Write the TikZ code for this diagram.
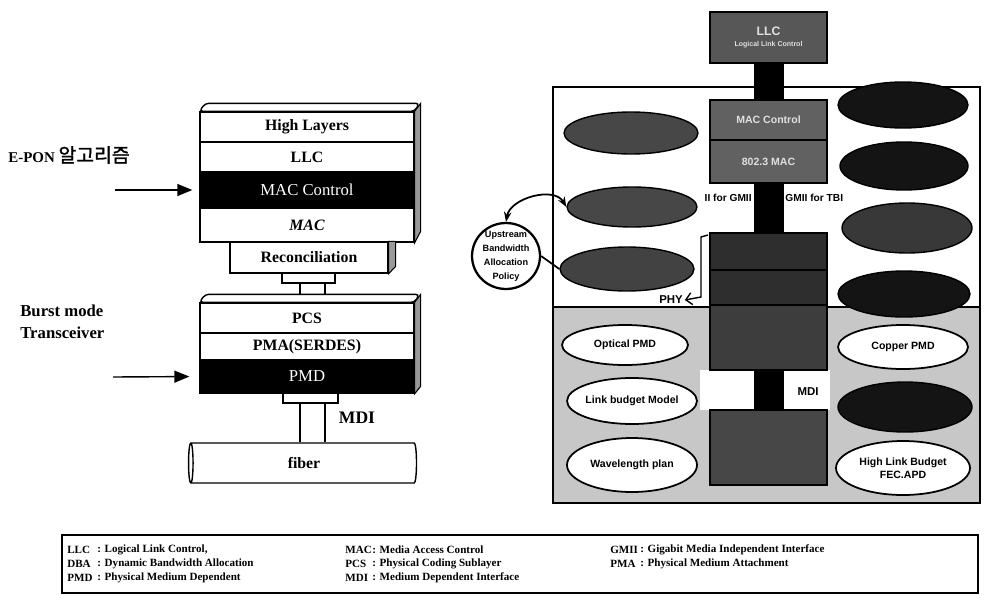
\documentclass[tikz,border=0pt]{standalone}
\usepackage{fontspec}
\setmainfont{Liberation Serif}
\newfontfamily\krfont[AutoFakeBold=1.5]{Noto Sans CJK KR}
\newfontfamily\lblsans{Liberation Sans}
\usetikzlibrary{shapes.geometric,arrows.meta}

\begin{document}
\begin{tikzpicture}[x=0.02cm, y=-0.02cm,
    layer/.style={draw, line width=0.8pt, fill=white, inner sep=0pt, minimum width=4.28cm, font=\fontsize{9}{10}\selectfont\bfseries},
    black layer/.style={layer, fill=black, text=white, font=\fontsize{9.5}{10}\selectfont},
    side face/.style={draw, line width=0.6pt, fill=black!40},
    top face/.style={draw, line width=0.8pt, fill=white, rounded corners=2pt},
    plug/.style={draw, line width=0.8pt, fill=white, inner sep=0pt},
    in arrow/.style={line width=0.8pt, -{Triangle[length=3mm,width=2.4mm]}},
    core box/.style={draw, line width=0.6pt, fill=black!62, inner sep=0pt, minimum width=2.34cm, text=black!12, font=\lblsans\fontsize{6}{7}\selectfont\bfseries},
    blob/.style={ellipse, draw, line width=0.8pt, fill=black!70, inner sep=0pt},
    oval/.style={ellipse, draw, line width=1pt, fill=white, inner sep=0pt},
    oval text/.style={align=center, inner sep=0pt, font=\lblsans\fontsize{6}{7.5}\selectfont\bfseries},
    bus/.style={line width=0.6cm, black},
    key text/.style={anchor=west, inner sep=0pt, font=\fontsize{6.3}{7}\selectfont\bfseries}
  ]
  \useasboundingbox (0,0) rectangle (986,595);

  % left: protocol stack
  \node[anchor=west, inner sep=0pt] (epon) at (8,155) {\fontsize{8.5}{10}\selectfont\bfseries E-PON {\krfont\fontsize{11}{12}\selectfont\bfseries 알고리즘}};
  \node[anchor=north west, align=left, inner sep=0pt, font=\fontsize{9.5}{12.5}\selectfont\bfseries] (burst) at (20,305) {Burst mode\\Transceiver};

  \node[layer, minimum height=0.6cm] (hl) at (307,127) {High Layers};
  \node[layer, minimum height=0.6cm] (llc) at (307,157) {LLC};
  \node[black layer, minimum height=0.72cm] (macc) at (307,190) {MAC Control};
  \node[layer, minimum height=0.68cm] (mac) at (307,225) {\itshape MAC};
  \draw[top face] (hl.north west) -- ++(6,-8) -- ++(214,0) -- (hl.north east) -- cycle;
  \draw[side face] (hl.north east) -- ++(6,-8) -- ++(0,128) -- (mac.south east) -- cycle;

  \node[layer, minimum width=3.16cm, minimum height=0.62cm] (rec) at (309,257.5) {Reconciliation};
  \draw[side face] (rec.north east) -- ++(7,0) -- ++(0,25) -- (rec.south east) -- cycle;
  \node[plug, minimum width=1.06cm, minimum height=0.2cm] (plugA) at (308.5,278) {};
  \node[plug, minimum width=0.5cm, minimum height=0.4cm] (stem) at (312.5,293) {};

  \node[layer, minimum height=0.6cm] (pcs) at (307,318) {PCS};
  \node[layer, minimum height=0.54cm] (pma) at (307,346.5) {PMA(SERDES)};
  \node[black layer, minimum height=0.66cm] (pmd) at (307,376.5) {PMD};
  \draw[top face] (pcs.north west) -- ++(6,-8) -- ++(214,0) -- (pcs.north east) -- cycle;
  \draw[side face] (pcs.north east) -- ++(6,-8) -- ++(0,92) -- (pmd.south east) -- cycle;
  \node[plug, minimum width=1.1cm, minimum height=0.2cm] (plugB) at (310.5,398) {};

  \node[cylinder, shape border rotate=180, draw, line width=0.8pt, aspect=0.4, minimum width=0.8cm, minimum height=4.56cm, inner sep=0pt, font=\fontsize{9}{10}\selectfont\bfseries] (fiber) at (304,463) {fiber};
  \draw[line width=0.8pt] ([xshift=-0.21cm]plugB.south) -- ([xshift=-0.21cm]plugB.south |- fiber.north);
  \draw[line width=0.8pt] ([xshift=0.29cm]plugB.south) -- ([xshift=0.29cm]plugB.south |- fiber.north);
  \node[font=\fontsize{10}{12}\selectfont\bfseries] (mdi) at (357,418) {MDI};

  \coordinate (eponTail) at (115,190);
  \coordinate (burstTail) at (113,377);
  \draw[in arrow, shorten >=0.14cm] (eponTail) -- (macc.west);
  \draw[in arrow, shorten >=0.2cm] (burstTail) -- (pmd.west);

  % right: layer model with the work items
  \fill[black!22] (553,307) rectangle (980,503);
  \fill[white] (700,370) rectangle (830,410);
  \draw[line width=1.3pt] (553,87) rectangle (980,503);
  \draw[line width=1.6pt] (553,307) -- (980,307);

  \node[anchor=east, inner sep=0pt, font=\lblsans\fontsize{5.8}{6}\selectfont\bfseries] (gmiiL) at (752,198) {II for GMII};
  \node[anchor=west, inner sep=0pt, font=\lblsans\fontsize{5.8}{6}\selectfont\bfseries] (gmiiR) at (785,198) {GMII for TBI};

  \node[core box, fill=black!66, minimum height=1.02cm, align=center] (llcR) at (768.5,37.5) {\fontsize{7}{8}\selectfont LLC\\[-1pt]\fontsize{4}{5}\selectfont Logical Link Control};
  \node[core box, minimum height=0.8cm] (maccR) at (768.5,120) {MAC Control};
  \node[core box, minimum height=0.86cm] (macR) at (768.5,161.5) {802.3 MAC};
  \node[core box, fill=black!82, minimum height=0.74cm] (pcsR) at (768.5,251.5) {};
  \node[core box, fill=black!82, minimum height=0.7cm] (pmaR) at (768.5,287.5) {};
  \node[core box, fill=black!76, minimum height=1.3cm] (pmdR) at (768.5,337.5) {};
  \node[core box, fill=black!72, minimum height=1.5cm] (medR) at (768.5,447.5) {};
  \draw[bus] (llcR.south) -- (maccR.north);
  \draw[bus] (macR.south) -- (pcsR.north);
  \draw[bus] (pmdR.south) -- (medR.north);
  \node[font=\lblsans\fontsize{6.5}{7}\selectfont\bfseries] (mdiR) at (808,392) {MDI};

  \node[font=\lblsans\fontsize{6.5}{7}\selectfont\bfseries, inner sep=1pt] (phylbl) at (671,300) {PHY};
  \coordinate (phytop) at (708,235);
  \draw[line width=0.8pt, -{Straight Barb[length=1.2mm]}] (phytop) -- ++(-7,2) -- ++(0,60) -- (phylbl.east);

  \foreach \nm/\cx/\cy/\w/\h/\tone in {lft1/631/133/2.68/0.84/72, lft2/632/207/2.6/0.8/72, lft3/627/269/2.68/0.88/74,
      rgt1/903/105/2.6/0.92/92, rgt2/904/166/2.56/0.96/92, rgt3/907/228/2.6/1.0/78, rgt4/904/294/2.64/0.92/92, rgt5/905/407/2.68/1.0/92}{
    \node[blob, fill=black!\tone, minimum width=\w cm, minimum height=\h cm] (\nm) at (\cx,\cy) {};
  }
  \foreach \nm/\cx/\cy/\w/\h/\txt in {optpmd/625/345/2.52/0.8/{Optical PMD}, linkb/632/401/2.6/0.92/{Link budget Model},
      wavep/632/465/2.6/1.08/{Wavelength plan}, coppmd/903/347/2.6/0.88/{Copper PMD},
      hilink/903/468/2.68/1.08/{High Link Budget\\FEC.APD}}{
    \node[oval, minimum width=\w cm, minimum height=\h cm] (\nm) at (\cx,\cy) {};
    \node[oval text] (\nm-t) at (\nm) {\txt};
  }

  \node[oval, line width=1.3pt, minimum width=1.36cm, minimum height=1.32cm] (ubap) at (506,256) {};
  \node[oval text, font=\lblsans\fontsize{5.2}{8}\selectfont\bfseries] (ubap-t) at (ubap) {Upstream\\Bandwidth\\Allocation\\Policy};
  \draw[line width=1pt, {Stealth[length=2mm]}-{Stealth[length=2mm]}] (lft2.west) to[out=120, in=80] (ubap.north);
  \draw[line width=1pt] (ubap.east) -- (lft3.west);

  % abbreviations
  \node[draw, line width=1pt, minimum width=18.32cm, minimum height=1.16cm, inner sep=0pt] (keybox) at (520,564) {};
  \foreach \ab/\desc/\cx/\cy/\dx in {LLC/{Logical Link Control,}/67/550/30, DBA/{Dynamic Bandwidth Allocation}/67/564/30,
      PMD/{Physical Medium Dependent}/67/578/30, MAC/{Media Access Control}/345/550/27,
      PCS/{Physical Coding Sublayer}/345/564/27, MDI/{Medium Dependent Interface}/345/578/27,
      GMII/{Gigabit Media Independent Interface}/610/550/30, PMA/{Physical Medium Attachment}/610/564/30}{
    \node[key text] (\ab-k) at (\cx,\cy) {\ab};
    \node[key text] (\ab-v) at (\cx+\dx,\cy) {: \desc};
  }
\end{tikzpicture}
\end{document}
